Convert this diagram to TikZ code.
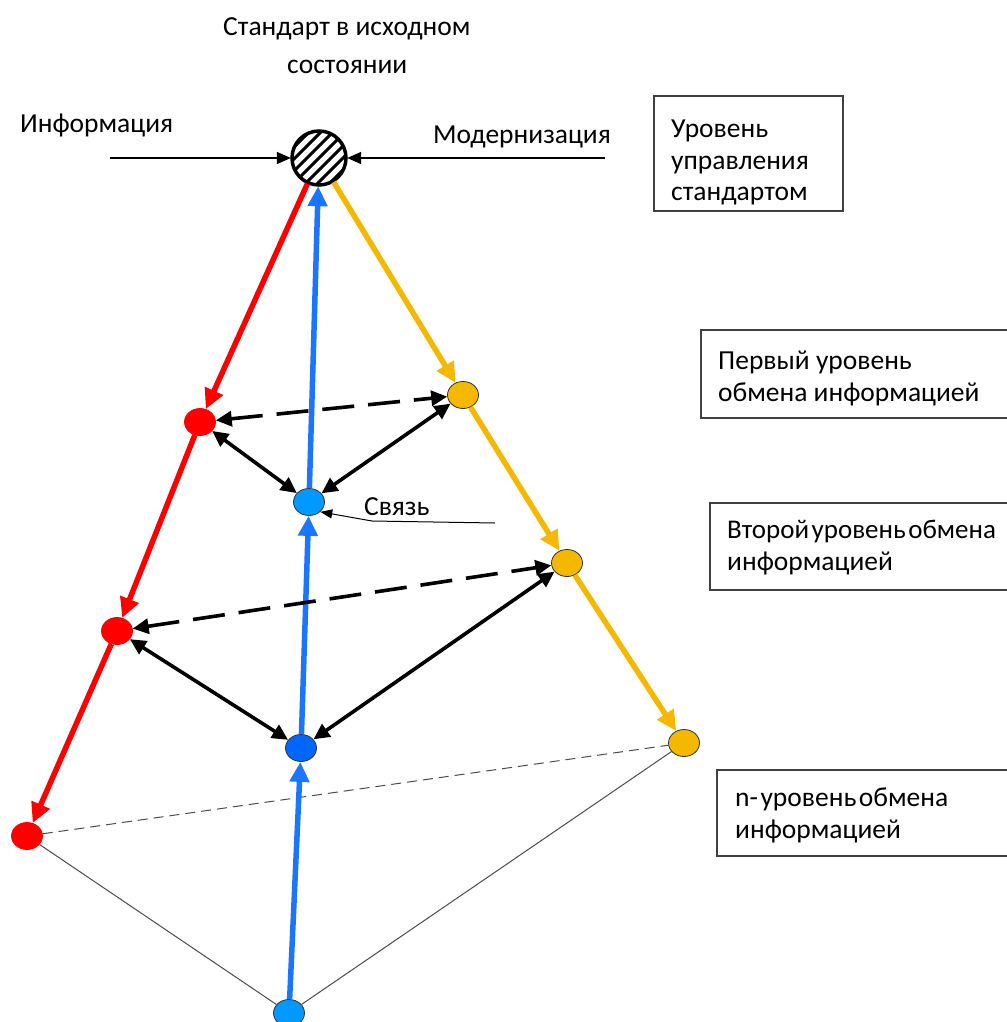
\documentclass[tikz,border=0pt]{standalone}
\usepackage{fontspec}
\setmainfont{Carlito}
\usetikzlibrary{arrows.meta,shapes.geometric}
\definecolor{redc}{HTML}{FF0000}
\definecolor{goldc}{HTML}{F5B800}
\definecolor{bluec}{HTML}{1A75FF}
\definecolor{lightblue}{HTML}{0099FF}
\definecolor{darkblue}{HTML}{0066FF}
\newcommand{\tsp}{\hspace{2.5pt}}
\begin{document}
\begin{tikzpicture}[x=1pt,y=-1pt,
  txt/.style={font=\fontsize{27.5}{32}\selectfont, anchor=base west, inner sep=0pt},
  dot/.style={ellipse, minimum width=31pt, minimum height=27pt, inner sep=0pt, draw=black!80, line width=0.8pt},
  reddot/.style={dot, fill=redc, draw=redc},
  golddot/.style={dot, fill=goldc},
  bluedot/.style={dot, fill=lightblue},
  flow/.style={line width=5.5pt, -{Triangle[length=20pt,width=19pt]}},
  link/.style={line width=3.6pt, black, {Triangle[length=16pt,width=15pt]}-{Triangle[length=16pt,width=15pt]}},
  dlink/.style={link, dash pattern=on 32pt off 14pt},
  thin/.style={line width=1pt, black!70},
  infobox/.style={draw=black!75, line width=1.2pt}]
\useasboundingbox (0,0) rectangle (1006,1022);

% standard in its initial state: hatched circle
\node[circle, minimum size=56pt, inner sep=0pt] (std) at (319,158) {};
\begin{scope}
  \clip (319,158) circle (28pt);
  \foreach \k in {-60,-48,...,60}
    \draw[line width=3pt] (319+\k-40,198) -- (319+\k+40,118);
\end{scope}
\draw[line width=3.5pt] (319,158) circle (27pt);

% level nodes
\node[reddot] (r1) at (200,422) {};
\node[reddot] (r2) at (117,631) {};
\node[reddot] (r3) at (27,836) {};
\node[golddot] (o1) at (463,395) {};
\node[golddot] (o2) at (567,563) {};
\node[golddot] (o3) at (684,743) {};
\node[bluedot] (b1) at (309,502) {};
\node[dot, fill=darkblue] (b2) at (301,748) {};
\node[bluedot] (b3) at (289,1013) {};

% base of the pyramid
\draw[thin, dashed, dash pattern=on 10pt off 6pt] (r3) -- (o3);
\draw[thin] (r3) -- (b3);
\draw[thin] (b3) -- (o3);

% flows down and up
\draw[flow, redc] (std) -- (r1);
\draw[flow, redc] (r1) -- (r2);
\draw[flow, redc] (r2) -- (r3);
\draw[flow, goldc] (std) -- (o1);
\draw[flow, goldc] (o1) -- (o2);
\draw[flow, goldc] (o2) -- (o3);
\draw[flow, bluec] (b3) -- (b2);
\draw[flow, bluec] (b2) -- (b1);
\draw[flow, bluec] (b1) -- (std);

% exchange links
\draw[dlink] (r1) -- (o1);
\draw[dlink] (r2) -- (o2);
\draw[link] (r1) -- (b1);
\draw[link] (o1) -- (b1);
\draw[link] (r2) -- (b2);
\draw[link] (o2) -- (b2);

% inputs to the standard
\coordinate (infoL) at (110,158);
\coordinate (modR) at (605,158);
\draw[line width=1.5pt, -{Triangle[length=14pt,width=12pt]}] (infoL) -- (std);
\draw[line width=1.5pt, -{Triangle[length=14pt,width=12pt]}] (modR) -- (std);

% labels
\node[txt] (ttl1) at (223,36) {Стандарт в исходном};
\node[txt] (ttl2) at (287,74) {состоянии};
\node[txt] (info) at (20,132) {Информация};
\node[txt] (mod) at (433,143) {Модернизация};

% connection callout
\node[txt] (svz) at (364,515) {Связь};
\coordinate (svzA) at (495,523);
\coordinate (svzB) at (372,521);
\draw[line width=1pt, -{Triangle[length=12pt,width=9pt]}] (svzA) -- (svzB) -- (b1.south east);

% level boxes
\draw[infobox] (654,96) rectangle (843,211);
\node[txt] (l0a) at (671,137) {Уровень};
\node[txt] (l0b) at (671,169) {управления};
\node[txt] (l0c) at (671,200) {стандартом};

\draw[infobox] (701,330) rectangle (1020,418);
\node[txt] (l1a) at (718,369) {Первый уровень};
\node[txt] (l1b) at (718,401) {обмена информацией};

\draw[infobox] (710,503) rectangle (1020,590);
\node[txt, font=\fontsize{27}{32}\selectfont] (l2a) at (727,538) {Второй\tsp уровень\tsp обмена};
\node[txt] (l2b) at (727,570) {информацией};

\draw[infobox] (717,770) rectangle (1020,856);
\node[txt] (l3a) at (735,806) {n-\tsp уровень\tsp обмена};
\node[txt] (l3b) at (735,838) {информацией};
\end{tikzpicture}
\end{document}
